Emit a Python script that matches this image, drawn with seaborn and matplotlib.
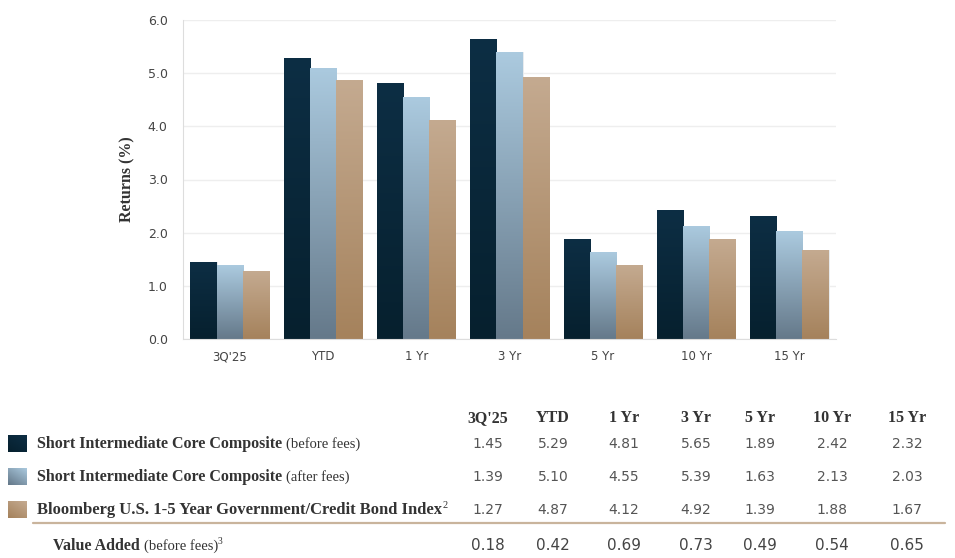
import matplotlib
matplotlib.use("Agg")
import matplotlib.pyplot as plt
import numpy as np
import pandas as pd
import seaborn as sns
from matplotlib.colors import LinearSegmentedColormap

periods = ["3Q'25", "YTD", "1 Yr", "3 Yr", "5 Yr", "10 Yr", "15 Yr"]
before_fees = [1.45, 5.29, 4.81, 5.65, 1.89, 2.42, 2.32]
after_fees = [1.39, 5.10, 4.55, 5.39, 1.63, 2.13, 2.03]
benchmark = [1.27, 4.87, 4.12, 4.92, 1.39, 1.88, 1.67]
value_added = [0.18, 0.42, 0.69, 0.73, 0.49, 0.54, 0.65]
series = ["before", "after", "bench"]

# gradient colours (top, bottom)
grads = {
    "before": ("#0d2e44", "#06202e"),
    "after": ("#abcadf", "#65798a"),
    "bench": ("#c4aa90", "#a5825c"),
}

df = pd.DataFrame({
    "period": periods * 3,
    "series": sum([[s] * len(periods) for s in series], []),
    "value": before_fees + after_fees + benchmark,
})

sns.set_style("white")
plt.rcParams['font.family'] = ['DejaVu Sans']

W, H = 955, 558
fig = plt.figure(figsize=(W / 100, H / 100), dpi=100)
ax = fig.add_axes([183 / W, 1 - 339 / H, (836 - 183) / W, (339 - 20) / H])

sns.barplot(data=df, x="period", y="value", hue="series", order=periods,
            hue_order=series, palette=[grads[s][0] for s in series],
            width=0.84, gap=0, edgecolor="#e9ecef", linewidth=0.7,
            legend=False, ax=ax, zorder=2)

# paint each bar with a vertical gradient clipped to it
for s, cont in zip(series, ax.containers):
    cmap = LinearSegmentedColormap.from_list(s, [grads[s][1], grads[s][0]])
    g = np.linspace(0, 1, 200).reshape(-1, 1)
    for bar in cont:
        x0, w, h = bar.get_x(), bar.get_width(), bar.get_height()
        im = ax.imshow(g, cmap=cmap, extent=[x0, x0 + w, 0, h], origin="lower",
                       aspect="auto", zorder=2.5, interpolation="bilinear")
        im.set_clip_path(bar)

ax.set_xlim(-0.5, len(periods) - 0.5)
ax.set_ylim(0, 6)
ax.set_yticks(np.arange(0, 6.1, 1.0))
ax.set_yticklabels([f"{v:.1f}" for v in np.arange(0, 6.1, 1.0)])
ax.yaxis.grid(True, color="#eeeeee", linewidth=1)
ax.set_axisbelow(True)
ax.set_xlabel("")
ax.set_ylabel("Returns (%)", family="Liberation Serif", fontweight="bold",
              fontsize=11.5, color="#333333", labelpad=9)
for sp in ["top", "right"]:
    ax.spines[sp].set_visible(False)
for sp in ["left", "bottom"]:
    ax.spines[sp].set_color("#dddddd")
ax.tick_params(axis="y", length=5, color="#dddddd", labelsize=9,
               labelcolor="#444444", pad=6)
ax.tick_params(axis="x", which="major", length=0, labelsize=8.5,
               labelcolor="#444444", pad=8)
ax.set_xticks(np.arange(-0.5, len(periods)), minor=True)
ax.tick_params(axis="x", which="minor", length=5, color="#dddddd")

# ---- table below the chart ----
r = fig.canvas.get_renderer()
serif = "Liberation Serif"


def ftext(x, y, s, **kw):
    return fig.text(x / W, 1 - y / H, s, **kw)


def runs(x, y, parts):
    for s, size, weight, rise in parts:
        t = ftext(x, y - rise, s, family=serif, fontsize=size, fontweight=weight,
                  color="#333333", va="baseline", ha="left")
        x += t.get_window_extent(r).width


col_x = [488, 553, 624, 696, 760, 832, 907]
for cx, p in zip(col_x, periods):
    ftext(cx, 422, p, family=serif, fontsize=11.5, fontweight="bold",
          color="#333333", ha="center", va="baseline")

rows_y = [448, 481, 514]
row_labels = [
    [("Short Intermediate Core Composite ", 11.5, "bold", 0), ("(before fees)", 10.5, "normal", 0)],
    [("Short Intermediate Core Composite ", 11.5, "bold", 0), ("(after fees)", 10.5, "normal", 0)],
    [("Bloomberg U.S. 1-5 Year Government/Credit Bond Index", 12, "bold", 0), ("2", 7.5, "normal", 6)],
]
for y, parts, s, vals in zip(rows_y, row_labels, series,
                             [before_fees, after_fees, benchmark]):
    runs(37, y, parts)
    # gradient swatch
    sw = fig.add_axes([8 / W, 1 - (y + 4) / H, 18 / W, 17 / H])
    cmap = LinearSegmentedColormap.from_list(s, [grads[s][1], grads[s][0]])
    xx, yy = np.meshgrid(np.linspace(0, 1, 20), np.linspace(0, 1, 20))
    sw.imshow(0.6 * yy + 0.4 * xx, cmap=cmap, origin="lower", aspect="auto")
    sw.axis("off")
    for cx, v in zip(col_x, vals):
        ftext(cx, y, f"{v:.2f}", fontsize=10, color="#555555",
              ha="center", va="baseline")

fig.add_artist(plt.Line2D([33 / W, 945 / W], [1 - 523 / H] * 2,
                          color="#c9b49c", linewidth=1.6))

runs(53, 550, [("Value Added ", 11.5, "bold", 0), ("(before fees)", 10.5, "normal", 0),
               ("3", 7, "normal", 6)])
for cx, v in zip(col_x, value_added):
    ftext(cx, 550, f"{v:.2f}", fontsize=11, color="#444444",
          ha="center", va="baseline")

fig.savefig("out.png", dpi=100)
